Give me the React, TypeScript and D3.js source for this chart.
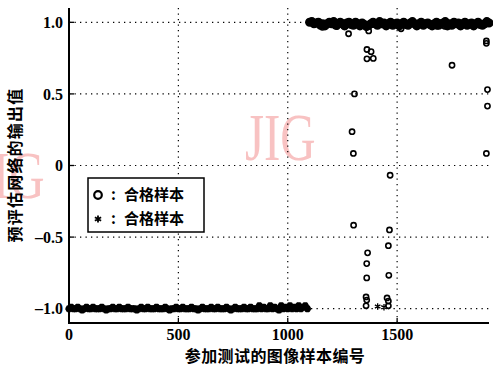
import React from "react";
import * as d3 from "d3";

// Sample numbering of the two dense groups (every 10th sample is drawn)
const LOW_START = 0;
const TOP_START = 1100;
const BAND_STEP = 10;

// Network output for the rejected group (samples 0 … 1090)
const lowBand: number[] = [
  -1, -0.99, -1, -1, -0.99, -1, -1.01, -1, -0.99, -1,
  -1, -0.99, -1, -1, -1, -0.99, -1, -1.01, -1, -1,
  -0.99, -1, -1, -0.99, -1, -1, -1, -0.99, -1, -1,
  -1, -1.01, -1, -0.99, -1, -1, -0.99, -1, -1, -1,
  -0.99, -1, -1, -1, -0.99, -1, -1.01, -1, -1, -0.99,
  -1, -1, -0.99, -1, -1, -1, -0.99, -1, -1, -1.01,
  -1, -0.99, -1, -1, -1, -0.99, -1, -1, -0.99, -1,
  -1, -1, -0.99, -1, -1.01, -1, -0.99, -1, -1, -1,
  -0.99, -1, -1, -0.99, -1, -1, -1, -0.98, -1, -0.99,
  -1, -1, -0.98, -1, -0.99, -1, -1.01, -0.98, -1, -0.99,
  -1, -0.98, -1, -0.99, -1, -0.98, -1, -0.99, -0.98, -1,
];

// Network output for the accepted group (samples 1100 … 1920)
const topBand: number[] = [
  1.0, 1.005, 0.99, 0.995, 1.0, 0.98, 0.99, 0.975, 0.99, 1.0,
  0.99, 1.005, 0.98, 0.99, 1.0, 0.99, 0.975, 0.995, 1.0, 0.985,
  0.98, 1.0, 0.99, 0.975, 0.995, 0.985, 0.97, 0.98, 0.99, 1.0,
  0.99, 0.98, 1.005, 0.99, 0.995, 0.975, 0.99, 1.0, 0.98, 0.99,
  0.995, 0.975, 0.99, 1.0, 0.985, 0.98, 0.995, 1.005, 0.99, 0.975,
  0.99, 1.0, 0.98, 0.99, 0.995, 0.985, 0.975, 0.99, 1.0, 0.98,
  0.99, 0.995, 1.005, 0.975, 0.99, 0.98, 1.0, 0.99, 0.995, 0.975,
  0.99, 1.0, 0.98, 0.99, 0.995, 0.975, 0.99, 1.0, 0.985, 0.98,
  0.99, 1.005, 0.995,
];

// Scattered outputs drawn as circles: [sample number, output]
const outliers: [number, number][] = [
  [1158, 0.965], [1225, 0.97], [1278, 0.92], [1370, 0.94], [1362, 0.81],
  [1381, 0.795], [1362, 0.745], [1391, 0.748], [1518, 0.955], [1682, 0.972],
  [1717, 0.972], [1908, 0.87], [1908, 0.853], [1751, 0.7], [1305, 0.5],
  [1913, 0.53], [1913, 0.415], [1294, 0.236], [1300, 0.084], [1908, 0.084],
  [1468, -0.068], [1301, -0.417], [1465, -0.45], [1460, -0.56], [1365, -0.61],
  [1361, -0.685], [1462, -0.767], [1361, -0.785], [1358, -0.918], [1361, -0.94],
  [1454, -0.925], [1460, -0.947], [1358, -0.98], [1460, -0.98],
];

// Scattered outputs drawn as asterisks
const starOutliers: [number, number][] = [
  [1411, -0.985], [1440, -0.99],
];

const xTicks = [0, 500, 1000, 1500];
const yTicks = [-1.0, -0.5, 0, 0.5, 1.0];
const yTickLabels = ["–1.0", "–0.5", "0", "0.5", "1.0"];

const legendLabel = "合格样本";
const xTitle = "参加测试的图像样本编号";
const yTitle = "预评估网络的输出值";

const W = 493;
const H = 367;
const M = { left: 69, right: 489, top: 8, bottom: 323 };

const x = d3.scaleLinear().domain([0, 1920]).range([M.left, M.right]);
const y = d3.scaleLinear().domain([-1.1, 1.1]).range([M.bottom, M.top]);

const star = (cx: number, cy: number, s: number, key: string, sw = 1.3) => {
  const a = s * 0.866;
  const b = s * 0.5;
  return (
    <path
      key={key}
      d={`M${cx},${cy - s}L${cx},${cy + s}M${cx - a},${cy - b}L${cx + a},${cy + b}M${cx - a},${cy + b}L${cx + a},${cy - b}`}
      stroke="#000"
      strokeWidth={sw}
      fill="none"
    />
  );
};

export default function App() {
  const serif = "'Liberation Serif', 'Times New Roman', serif";
  const cjk = "'Noto Sans CJK SC', sans-serif";
  const mark = "'Liberation Serif', serif";

  return (
    <svg
      width={W}
      height={H}
      viewBox={`0 0 ${W} ${H}`}
      style={{ position: "absolute", left: 0, top: 0, background: "#fff" }}
    >
      {/* faint watermarks */}
      <g fill="#f8c2c2" fontFamily={mark}>
        <text transform="translate(245,160) scale(0.72,1)" fontSize={68}>JIG</text>
        <text transform="translate(-26,198) scale(0.72,1)" fontSize={68}>JIG</text>
      </g>

      {/* dotted grid */}
      <g stroke="#000" strokeWidth={1.2} strokeDasharray="1.3 4.2">
        {yTicks.map((t) => (
          <line key={`gy${t}`} x1={M.left} x2={M.right} y1={y(t)} y2={y(t)} />
        ))}
        {xTicks.filter((t) => t > 0).map((t) => (
          <line key={`gx${t}`} x1={x(t)} x2={x(t)} y1={M.top} y2={M.bottom} />
        ))}
      </g>

      {/* axes */}
      <line x1={M.left} x2={M.left} y1={M.top} y2={M.bottom + 1} stroke="#000" strokeWidth={2} />
      <line x1={M.left} x2={M.right} y1={M.bottom} y2={M.bottom} stroke="#000" strokeWidth={1.8} />
      <g stroke="#000" strokeWidth={1.3}>
        {xTicks.map((t) => (
          <line key={`tx${t}`} x1={x(t)} x2={x(t)} y1={M.bottom} y2={M.bottom - 5} />
        ))}
        {yTicks.map((t) => (
          <line key={`ty${t}`} x1={M.left} x2={M.left + 5} y1={y(t)} y2={y(t)} />
        ))}
      </g>

      {/* tick labels */}
      <g fontFamily={serif} fontWeight="bold" fontSize={16} fill="#000">
        {yTicks.map((t, i) => (
          <text key={`ly${t}`} x={63} y={y(t)} dy="0.35em" textAnchor="end">
            {yTickLabels[i]}
          </text>
        ))}
        {xTicks.map((t) => (
          <text key={`lx${t}`} x={x(t)} y={340} textAnchor="middle">
            {t}
          </text>
        ))}
      </g>

      {/* rejected samples */}
      <g>
        {lowBand.map((v, i) => star(x(LOW_START + i * BAND_STEP), y(v), 3.5, `lb${i}`, 3.4))}
        {starOutliers.map(([s, v], i) => star(x(s), y(v), 3.2, `so${i}`))}
      </g>

      {/* accepted samples: the dense run merges into a solid bar */}
      <g fill="#000" stroke="#000" strokeWidth={1.5}>
        {topBand.map((v, i) => (
          <circle key={`tb${i}`} cx={x(TOP_START + i * BAND_STEP)} cy={y(v)} r={3.8} />
        ))}
      </g>
      <g fill="none" stroke="#000" strokeWidth={1.6}>
        {outliers.map(([s, v], i) => (
          <circle key={`o${i}`} cx={x(s)} cy={y(v)} r={2.6} />
        ))}
      </g>

      {/* legend */}
      <rect x={88} y={178} width={116} height={54} fill="#fff" stroke="#000" strokeWidth={1.5} />
      <circle cx={98} cy={195} r={3.8} fill="none" stroke="#000" strokeWidth={2.2} />
      {star(98, 219, 3.6, "legstar", 1.8)}
      <g fontFamily={cjk} fontWeight="bold" fontSize={15} fill="#000">
        <text x={111} y={195} dy="0.36em">:</text>
        <text x={124} y={195} dy="0.36em">{legendLabel}</text>
        <text x={111} y={219} dy="0.36em">:</text>
        <text x={124} y={219} dy="0.36em">{legendLabel}</text>
      </g>

      {/* axis titles */}
      <text
        x={275}
        y={362}
        textAnchor="middle"
        fontFamily={cjk}
        fontWeight="bold"
        fontSize={16}
        letterSpacing={0.4}
        fill="#000"
      >
        {xTitle}
      </text>
      <text
        transform="translate(21,165) rotate(-90)"
        textAnchor="middle"
        fontFamily={cjk}
        fontWeight="bold"
        fontSize={16}
        letterSpacing={1.2}
        fill="#000"
      >
        {yTitle}
      </text>
    </svg>
  );
}
